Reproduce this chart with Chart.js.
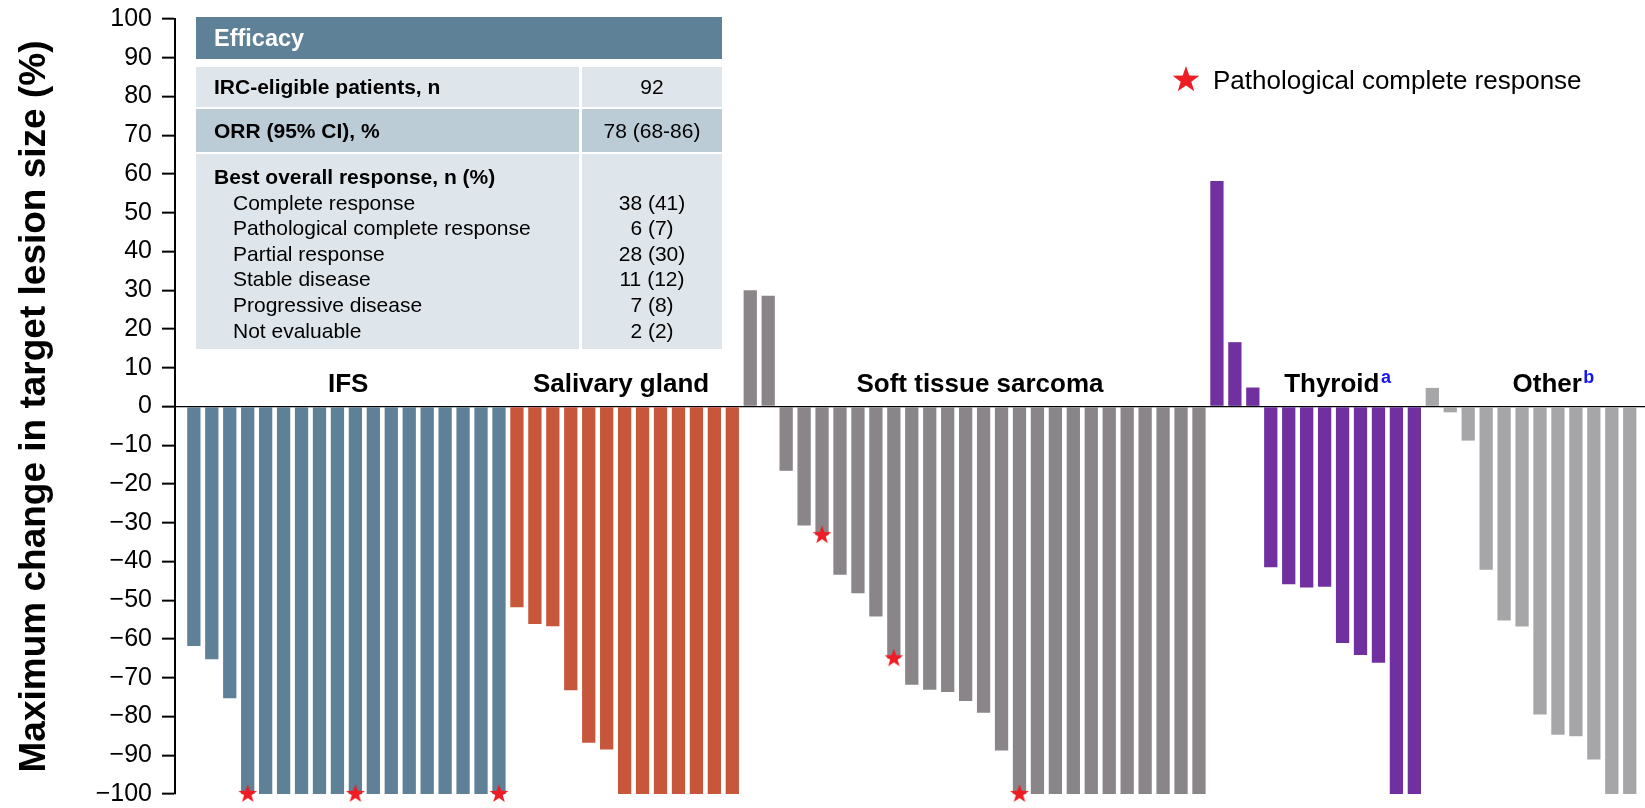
<!DOCTYPE html>
<html>
<head>
<meta charset="utf-8">
<title>Maximum change in target lesion size by tumour type</title>
<script src="https://cdn.jsdelivr.net/npm/chart.js@4/dist/chart.umd.min.js"></script>
<style>
  html, body { margin: 0; padding: 0; background: #fff; }
  body { font-family: "Liberation Sans", Arial, Helvetica, sans-serif; color: #000; }
  #wrap { position: relative; width: 1645px; height: 808px; overflow: hidden; }
  #chart { position: absolute; left: 0; top: 0; }
  #efficacy { position: absolute; left: 196px; top: 17px; width: 526px; }
  #efficacy .head { height: 42px; background: #5E8197; color: #fff; font-weight: bold;
                    font-size: 23.5px; display: flex; align-items: center; padding-left: 18px; }
  #efficacy .row { display: flex; }
  #efficacy .cell { display: flex; align-items: center; box-sizing: border-box; }
  #efficacy .lab { width: 383px; padding-left: 18px; font-weight: bold; font-size: 21px; }
  #efficacy .val { width: 140px; margin-left: 3px; justify-content: center; font-size: 21px; }
  #efficacy .block { display: block; padding-top: 10px; line-height: 25.6px; }
  #efficacy .block div { white-space: nowrap; }
  #efficacy .val.block { text-align: center; }
  #efficacy .sub { padding-left: 19px; font-weight: normal; }
  #legend { position: absolute; left: 1171px; top: 62px; height: 36px; display: flex; align-items: center;
            font-size: 26px; white-space: nowrap; }
  #legend canvas { margin-right: 4px; }
</style>
</head>
<body>
<div id="wrap">
  <canvas id="chart" width="1645" height="808"></canvas>
  <div id="efficacy"></div>
  <div id="legend"></div>
</div>
<script>
// Tumour groups, in plotting order
const groupNames = ['IFS', 'Salivary gland', 'Soft tissue sarcoma', 'Thyroid', 'Other'];
const groupNotes = ['', '', '', 'a', 'b'];
const groupColors = ['#5E8197', '#C6573A', '#8A8589', '#7030A0', '#A6A6A8'];

// Best change from baseline in target lesion size (%) per patient, sorted within each group
const ifsChange = [-61.8, -65.2, -75.3, -100, -100, -100, -100, -100, -100, -100, -100, -100, -100, -100, -100, -100, -100, -100];
const salivaryChange = [-51.8, -56.1, -56.7, -73.2, -86.8, -88.5, -100, -100, -100, -100, -100, -100, -100];
const sarcomaChange = [30.0, 28.6, -16.6, -30.7, -33.2, -43.4, -48.2, -54.2, -65.0, -71.8, -73.1, -73.7, -76.0, -79.0, -88.8,
                       -100, -100, -100, -100, -100, -100, -100, -100, -100, -100, -100];
const thyroidChange = [58.2, 16.6, 4.9, -41.5, -45.9, -46.7, -46.5, -61.0, -64.1, -66.1, -100, -100];
const otherChange = [4.8, -1.5, -8.8, -42.1, -55.2, -56.8, -79.5, -84.7, -85.1, -91.1, -100, -100];

// Patients (position within their group) with a pathological complete response
const ifsPcr = [3, 9, 17];
const sarcomaPcr = [4, 8, 15];

// Y axis
const yMin = -100, yMax = 100, yStep = 10;
const yTitle = 'Maximum change in target lesion size (%)';

// Efficacy summary
const efficacyTitle = 'Efficacy';
const efficacyRows = [['IRC-eligible patients, n', '92'], ['ORR (95% CI), %', '78 (68-86)']];
const responseHeading = 'Best overall response, n (%)';
const responseLabels = ['Complete response', 'Pathological complete response', 'Partial response',
                        'Stable disease', 'Progressive disease', 'Not evaluable'];
const responseCounts = ['38 (41)', '6 (7)', '28 (30)', '11 (12)', '7 (8)', '2 (2)'];
const legendText = 'Pathological complete response';

// ---- build datasets ----
const groupValues = [ifsChange, salivaryChange, sarcomaChange, thyroidChange, otherChange];
const groupPcr = [ifsPcr, [], sarcomaPcr, [], []];
const groupStart = [];
let running = 0;
groupValues.forEach(vals => { groupStart.push(running); running += vals.length; });
const totalBars = running;

const barSets = groupValues.map((vals, g) => ({
  type: 'bar',
  label: groupNames[g],
  data: vals.map((v, i) => ({ x: groupStart[g] + i, y: v })),
  backgroundColor: groupColors[g],
  borderWidth: 0,
  order: 1
}));

const starPoints = [];
groupPcr.forEach((list, g) => list.forEach(i => starPoints.push({ x: groupStart[g] + i, y: groupValues[g][i] })));

function makeStar(r, color) {
  const size = Math.ceil(r * 2 + 2);
  const c = document.createElement('canvas');
  c.width = size; c.height = size;
  const g = c.getContext('2d');
  const cx = size / 2, cy = size / 2, ri = r * 0.40;
  g.beginPath();
  for (let k = 0; k < 10; k++) {
    const rad = k % 2 ? ri : r;
    const a = -Math.PI / 2 + k * Math.PI / 5;
    g.lineTo(cx + rad * Math.cos(a), cy + rad * Math.sin(a));
  }
  g.closePath();
  g.fillStyle = color;
  g.fill();
  return c;
}
const starRed = '#EE1C25';
const starImg = makeStar(9.8, starRed);

const starSet = {
  type: 'line',
  label: legendText,
  data: starPoints,
  showLine: false,
  pointStyle: starImg,
  pointRadius: 9,
  pointHoverRadius: 9,
  borderWidth: 0,
  clip: false,
  order: 0
};

// ---- group labels above the zero line ----
const groupLabelPlugin = {
  id: 'groupLabels',
  afterDatasetsDraw(chart, args, opts) {
    const { ctx } = chart;
    const xs = chart.scales.x, ys = chart.scales.y;
    const base = ys.getPixelForValue(0) - 15;
    ctx.save();
    groupNames.forEach((name, g) => {
      const mid = groupStart[g] + (groupValues[g].length - 1) / 2 + opts.shift[g];
      const cx = xs.getPixelForValue(mid);
      ctx.font = 'bold 26px "Liberation Sans", Arial, sans-serif';
      ctx.fillStyle = '#000';
      ctx.textAlign = 'center';
      ctx.textBaseline = 'alphabetic';
      ctx.fillText(name, cx, base);
      if (groupNotes[g]) {
        const w = ctx.measureText(name).width;
        ctx.font = 'bold 18px "Liberation Sans", Arial, sans-serif';
        ctx.fillStyle = '#1515F0';
        ctx.textAlign = 'left';
        ctx.fillText(groupNotes[g], cx + w / 2 + 1.5, base - 8.5);
      }
    });
    ctx.restore();
  }
};

Chart.defaults.font.family = '"Liberation Sans", Arial, sans-serif';
Chart.defaults.color = '#000';

new Chart(document.getElementById('chart'), {
  type: 'bar',
  data: { datasets: [...barSets, starSet] },
  options: {
    responsive: false,
    animation: false,
    devicePixelRatio: 1,
    layout: { autoPadding: false, padding: { left: 0, right: 0, top: 19, bottom: 14 } },
    datasets: { bar: { grouped: false, barPercentage: 0.74, categoryPercentage: 1.0 } },
    plugins: {
      legend: { display: false },
      tooltip: { enabled: false },
      groupLabels: { shift: [0.1, -0.2, 0.3, 0.9, 0.9] }
    },
    scales: {
      x: {
        type: 'linear',
        display: false,
        offset: false,
        min: -1.05,
        max: totalBars - 0.15
      },
      y: {
        type: 'linear',
        min: yMin,
        max: yMax,
        afterFit(scale) {
          scale.width = 175;
          scale.paddingTop = 0;
          scale.paddingBottom = 0;
        },
        ticks: {
          stepSize: yStep,
          padding: 10,
          font: { size: 25 },
          color: '#000',
          callback: v => (v < 0 ? '\u2212' + Math.abs(v) : String(v))
        },
        grid: {
          drawOnChartArea: true,
          color: c => (c.tick && c.tick.value === 0 ? '#000' : 'rgba(0,0,0,0)'),
          lineWidth: 1.3,
          tickLength: 13,
          tickWidth: 2,
          tickColor: '#000'
        },
        border: { display: true, color: '#000', width: 2 },
        title: {
          display: true,
          text: yTitle,
          font: { size: 37, weight: 'bold' },
          color: '#000',
          padding: { top: 13, bottom: 0 }
        }
      }
    }
  },
  plugins: [groupLabelPlugin]
});

// ---- efficacy summary table ----
(function buildTable() {
  const box = document.getElementById('efficacy');
  const head = document.createElement('div');
  head.className = 'head';
  head.textContent = efficacyTitle;
  box.appendChild(head);

  const rowSpec = [
    { h: 40, top: 8, bg: '#DEE5EB' },
    { h: 43, top: 2, bg: '#BBCCD7' }
  ];
  efficacyRows.forEach((r, i) => {
    const row = document.createElement('div');
    row.className = 'row';
    row.style.marginTop = rowSpec[i].top + 'px';
    row.style.height = rowSpec[i].h + 'px';
    const a = document.createElement('div');
    a.className = 'cell lab';
    a.style.background = rowSpec[i].bg;
    a.textContent = r[0];
    const b = document.createElement('div');
    b.className = 'cell val';
    b.style.background = rowSpec[i].bg;
    b.textContent = r[1];
    row.appendChild(a); row.appendChild(b);
    box.appendChild(row);
  });

  const row = document.createElement('div');
  row.className = 'row';
  row.style.marginTop = '2px';
  row.style.height = '195px';
  const a = document.createElement('div');
  a.className = 'cell lab block';
  a.style.background = '#DEE5EB';
  const b = document.createElement('div');
  b.className = 'cell val block';
  b.style.background = '#DEE5EB';
  const h = document.createElement('div');
  h.textContent = responseHeading;
  a.appendChild(h);
  const blank = document.createElement('div');
  blank.innerHTML = '&nbsp;';
  b.appendChild(blank);
  responseLabels.forEach((t, i) => {
    const l = document.createElement('div');
    l.className = 'sub';
    l.textContent = t;
    a.appendChild(l);
    const v = document.createElement('div');
    v.textContent = responseCounts[i];
    b.appendChild(v);
  });
  row.appendChild(a); row.appendChild(b);
  box.appendChild(row);
})();

// ---- legend for the star marker ----
(function buildLegend() {
  const lg = document.getElementById('legend');
  const s = makeStar(14, starRed);
  lg.appendChild(s);
  const t = document.createElement('span');
  t.textContent = legendText;
  t.style.marginLeft = '8px';
  lg.appendChild(t);
})();
</script>
</body>
</html>
